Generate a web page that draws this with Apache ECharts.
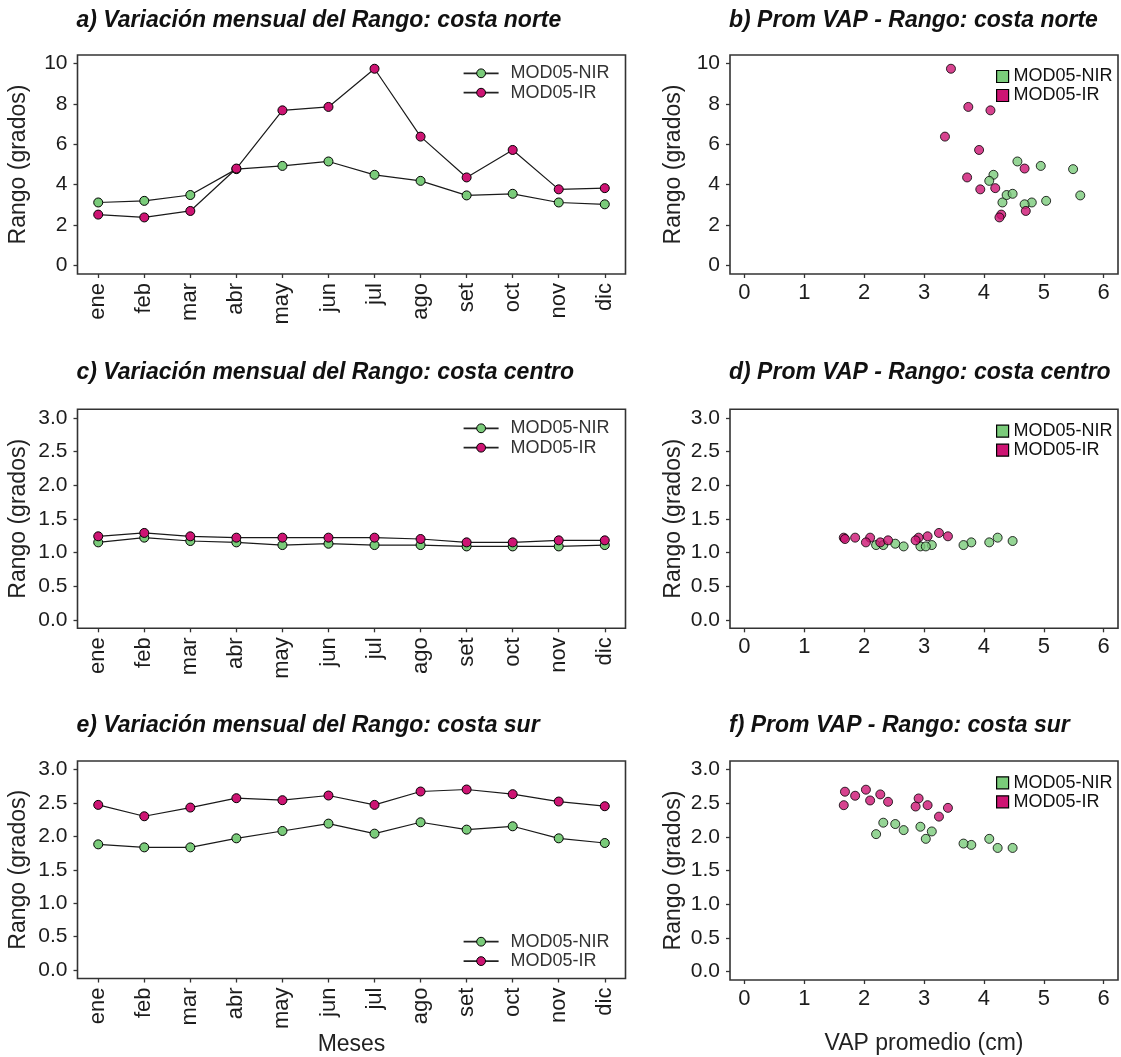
<!DOCTYPE html>
<html>
<head>
<meta charset="utf-8">
<script src="https://cdn.jsdelivr.net/npm/echarts@6/dist/echarts.min.js"></script>
<style>
  html, body { margin: 0; padding: 0; background: #fff; }
  #chart { width: 1121px; height: 1057px; }
</style>
</head>
<body>
<div id="chart"></div>
<script>
// Meses del año (etiquetas del eje x de los paneles mensuales)
const meses = ['ene', 'feb', 'mar', 'abr', 'may', 'jun', 'jul', 'ago', 'set', 'oct', 'nov', 'dic'];

// Rango mensual (grados) por sensor y zona de costa
const rangoNorteNIR  = [3.12, 3.20, 3.49, 4.77, 4.93, 5.15, 4.49, 4.19, 3.47, 3.55, 3.12, 3.03];
const rangoNorteIR   = [2.52, 2.38, 2.70, 4.80, 7.68, 7.85, 9.74, 6.38, 4.36, 5.72, 3.77, 3.83];
const rangoCentroNIR = [1.15, 1.22, 1.17, 1.15, 1.11, 1.13, 1.11, 1.11, 1.09, 1.09, 1.09, 1.11];
const rangoCentroIR  = [1.24, 1.29, 1.24, 1.22, 1.22, 1.22, 1.22, 1.20, 1.15, 1.15, 1.18, 1.18];
const rangoSurNIR    = [1.88, 1.835, 1.835, 1.97, 2.08, 2.19, 2.04, 2.21, 2.10, 2.15, 1.97, 1.90];
const rangoSurIR     = [2.47, 2.30, 2.43, 2.57, 2.54, 2.61, 2.47, 2.67, 2.70, 2.63, 2.52, 2.45];

// VAP promedio mensual (cm) por sensor y zona de costa
const vapNorteNIR  = [4.31, 5.04, 4.38, 5.49, 4.95, 4.56, 4.16, 4.09, 5.61, 4.48, 4.80, 4.68];
const vapNorteIR   = [4.29, 4.26, 4.70, 4.68, 4.11, 3.74, 3.45, 3.35, 3.72, 3.92, 3.94, 4.19];
const vapCentroNIR = [3.79, 4.23, 4.48, 4.09, 3.13, 2.52, 2.20, 2.32, 2.66, 2.94, 3.03, 3.66];
const vapCentroIR  = [3.06, 3.25, 3.40, 2.91, 2.10, 1.85, 1.66, 1.68, 2.03, 2.27, 2.40, 2.86];
const vapSurNIR    = [3.79, 4.23, 4.48, 4.09, 3.13, 2.52, 2.20, 2.32, 2.66, 2.94, 3.03, 3.66];
const vapSurIR     = [3.06, 3.25, 3.40, 2.91, 2.10, 1.85, 1.66, 1.68, 2.03, 2.27, 2.40, 2.86];

// Marcas de los ejes
const ticksNorte = [0, 2, 4, 6, 8, 10];
const ticksCentroSur = [0, 0.5, 1.0, 1.5, 2.0, 2.5, 3.0];
const ticksVAP = [0, 1, 2, 3, 4, 5, 6];
const ticksMes = meses.map((m, i) => i);

const titulos = [
  'a) Variación mensual del Rango: costa norte',
  'b) Prom VAP - Rango: costa norte',
  'c) Variación mensual del Rango: costa centro',
  'd) Prom VAP - Rango: costa centro',
  'e) Variación mensual del Rango: costa sur',
  'f) Prom VAP - Rango: costa sur'
];

const NIR = 'MOD05-NIR';
const IR = 'MOD05-IR';
const VERDE = '#7acb7a';
const MAGENTA = '#cd1473';
const FONT = '"Liberation Sans", Arial, sans-serif';
const INK = '#1c1c1c';

const colX = [77.5, 730];
const colW = [548, 388];
const rowY = [55, 409.3, 761];
const rowH = 219;

const grid = [];
for (let r = 0; r < 3; r++) {
  for (let c = 0; c < 2; c++) {
    grid.push({
      left: colX[c], top: rowY[r], width: colW[c], height: rowH,
      show: true, borderColor: '#333', borderWidth: 1.6,
      backgroundColor: 'transparent', containLabel: false
    });
  }
}

const tickStyle = { show: true, inside: false, length: 4, lineStyle: { color: '#333', width: 1.3 } };

function ejeX(idx, mensual, nombre) {
  const ax = {
    gridIndex: idx, type: 'value',
    min: mensual ? -0.45 : -0.24,
    max: mensual ? 11.45 : 6.24,
    axisLine: { show: false, onZero: false },
    splitLine: { show: false },
    axisTick: Object.assign({}, tickStyle, { customValues: mensual ? ticksMes : ticksVAP }),
    axisLabel: mensual ? {
      customValues: ticksMes, rotate: 90, margin: 9,
      formatter: v => meses[Math.round(v)],
      fontSize: 22, color: INK, fontFamily: FONT
    } : {
      customValues: ticksVAP, margin: 8,
      formatter: v => String(v),
      fontSize: 22, color: INK, fontFamily: FONT
    }
  };
  if (nombre) {
    ax.name = nombre;
    ax.nameLocation = 'middle';
    ax.nameGap = 52;
    ax.nameTextStyle = { fontSize: 23, color: '#222', fontFamily: FONT };
  }
  return ax;
}

function ejeY(idx, norte, gap) {
  const ext = norte ? 10 : 3;
  const pad = ext * 0.042;
  return {
    gridIndex: idx, type: 'value',
    min: -pad, max: ext + pad,
    name: 'Rango (grados)', nameLocation: 'middle', nameGap: gap,
    nameTextStyle: { fontSize: 23, color: '#222', fontFamily: FONT },
    axisLine: { show: false, onZero: false },
    splitLine: { show: false },
    axisTick: Object.assign({}, tickStyle, { customValues: norte ? ticksNorte : ticksCentroSur }),
    axisLabel: {
      customValues: norte ? ticksNorte : ticksCentroSur, margin: 10,
      formatter: v => norte ? String(v) : v.toFixed(1),
      fontSize: 21, color: INK, fontFamily: FONT
    }
  };
}

const xAxis = [], yAxis = [];
for (let r = 0; r < 3; r++) {
  xAxis.push(ejeX(r * 2, true, r === 2 ? 'Meses' : null));
  xAxis.push(ejeX(r * 2 + 1, false, r === 2 ? 'VAP promedio (cm)' : null));
  yAxis.push(ejeY(r * 2, r === 0, 47));
  yAxis.push(ejeY(r * 2 + 1, r === 0, 45));
}

const puntoEstilo = color => ({ color: color, borderColor: '#000', borderWidth: 1 });

function serieMensual(idx, nombre, valores, color) {
  return {
    type: 'line', name: nombre, xAxisIndex: idx, yAxisIndex: idx,
    data: valores.map((v, i) => [i, v]),
    symbol: 'circle', symbolSize: 9,
    itemStyle: puntoEstilo(color),
    lineStyle: { color: '#1a1a1a', width: 1.2 },
    emphasis: { disabled: true }, silent: true
  };
}

function serieVAP(idx, nombre, vap, rango, color) {
  return {
    type: 'scatter', name: nombre, xAxisIndex: idx, yAxisIndex: idx,
    data: vap.map((x, i) => [x, rango[i]]),
    symbol: 'circle', symbolSize: 9,
    itemStyle: puntoEstilo(color),
    emphasis: { disabled: true }, silent: true
  };
}

const series = [
  serieMensual(0, NIR, rangoNorteNIR, VERDE),
  serieMensual(0, IR, rangoNorteIR, MAGENTA),
  serieVAP(1, NIR, vapNorteNIR, rangoNorteNIR, VERDE),
  serieVAP(1, IR, vapNorteIR, rangoNorteIR, MAGENTA),
  serieMensual(2, NIR, rangoCentroNIR, VERDE),
  serieMensual(2, IR, rangoCentroIR, MAGENTA),
  serieVAP(3, NIR, vapCentroNIR, rangoCentroNIR, VERDE),
  serieVAP(3, IR, vapCentroIR, rangoCentroIR, MAGENTA),
  serieMensual(4, NIR, rangoSurNIR, VERDE),
  serieMensual(4, IR, rangoSurIR, MAGENTA),
  serieVAP(5, NIR, vapSurNIR, rangoSurNIR, VERDE),
  serieVAP(5, IR, vapSurIR, rangoSurIR, MAGENTA)
];

const title = titulos.map((t, k) => ({
  text: t,
  left: colX[k % 2] - 1,
  top: [9, 361, 714][Math.floor(k / 2)],
  padding: 0,
  textStyle: { fontSize: 23, fontWeight: 'bold', fontStyle: 'italic', color: '#111', fontFamily: FONT }
}));

function leyendaLinea(top) {
  return {
    orient: 'vertical', left: 462.7, top: top, padding: 0,
    data: [NIR, IR], selectedMode: false,
    itemWidth: 35, itemHeight: 11, itemGap: 1.4,
    itemStyle: { borderWidth: 1, borderColor: '#000' },
    lineStyle: { width: 1.8, color: '#222' },
    textStyle: { fontSize: 18, lineHeight: 18, color: '#333', fontFamily: FONT, padding: [0, 0, 0, 7] }
  };
}

function leyendaCuadro(top) {
  return {
    orient: 'vertical', left: 996, top: top, padding: 0,
    selectedMode: false,
    data: [
      { name: NIR, icon: 'rect', itemStyle: { color: VERDE, borderColor: '#000', borderWidth: 1.2 } },
      { name: IR, icon: 'rect', itemStyle: { color: MAGENTA, borderColor: '#000', borderWidth: 1.2 } }
    ],
    itemWidth: 12, itemHeight: 12, itemGap: 1,
    textStyle: { fontSize: 18, lineHeight: 18, color: '#111', fontFamily: FONT }
  };
}

const legend = [
  leyendaLinea(64.3),
  leyendaCuadro(67.5),
  leyendaLinea(419.3),
  leyendaCuadro(422.2),
  leyendaLinea(932.7),
  leyendaCuadro(773.8)
];

const chart = echarts.init(document.getElementById('chart'), null, { renderer: 'canvas' });
chart.setOption({
  backgroundColor: '#fff',
  animation: false,
  title: title,
  legend: legend,
  grid: grid,
  xAxis: xAxis,
  yAxis: yAxis,
  series: series
});
</script>
</body>
</html>
